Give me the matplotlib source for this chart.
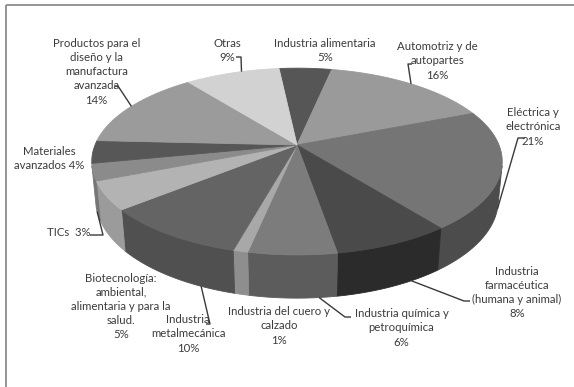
import numpy as np
import matplotlib
matplotlib.use("Agg")
import matplotlib.pyplot as plt
from matplotlib.patches import Polygon, Rectangle

# --- data -------------------------------------------------------------
sectors = [
    "Industria alimentaria",
    "Automotriz y de\nautopartes",
    "Eléctrica y\nelectrónica",
    "Industria\nfarmacéutica\n(humana y animal)",
    "Industria química y\npetroquímica",
    "Industria del cuero y\ncalzado",
    "Industria\nmetalmecánica",
    "Biotecnología:\nambiental,\nalimentaria y para la\nsalud.",
    "TICs",
    "Materiales\navanzados",
    "Productos para el\ndiseño y la\nmanufactura\navanzada",
    "Otras",
]
shares = [5, 16, 21, 8, 6, 1, 10, 5, 3, 4, 14, 9]
pct_inline = [False, False, False, False, False, False, False, False, True, True, False, False]

top_colors = ["#565656", "#9a9a9a", "#757575", "#4a4a4a", "#7c7c7c", "#a8a8a8",
              "#646464", "#b3b3b3", "#8b8b8b", "#575757", "#9b9b9b", "#d2d2d2"]
side_colors = ["#454545", "#7e7e7e", "#4c4c4c", "#2b2b2b", "#5c5c5c", "#8e8e8e",
               "#505050", "#9b9b9b", "#767676", "#4a4a4a", "#808080", "#b0b0b0"]

# label placement (centre x, centre y of first line) in figure pixels
label_xy = [(325, 43.5), (437.5, 46.7), (533, 112.7), (517, 271.3),
            (401.5, 313.7), (279, 311.7), (188, 319.7), (121, 278),
            (68.7, 233), (49, 151.7), (96.7, 43.3), (227.7, 43.3)]
line_step = 14.2

# leader lines: sector index -> (hook points near the text, position along slice)
leaders = {
    1: ([(412, 64), (408, 64)], 0.5),
    2: ([(525, 138), (518, 138)], 0.5),
    3: ([(470, 301), (464, 301)], 0.3),
    4: ([(351, 317), (345, 317)], 0.2),
    6: ([(206, 324), (210, 324)], 0.25),
    8: ([(90, 235), (103, 235)], 0.5),
    10: ([(114, 86), (118, 86)], 0.5),
    11: ([(236, 57), (241, 57)], 0.6),
}

# --- 3-D pie geometry --------------------------------------------------
W, H = 574, 387
cx, cy = 297.0, 145.0          # projected centre of the top face
elev = np.radians(26.6)        # viewing elevation
dist = 5.05                    # camera distance (pie radius = 1)
focal = 202 * dist             # screen scale
thick = 0.213                  # pie height
start = -6.0                   # first slice angle, degrees clockwise from 12 o'clock

s_e, c_e = np.sin(elev), np.cos(elev)


def project(theta, z):
    theta = np.asarray(theta, dtype=float)
    x = np.cos(theta)
    y = np.sin(theta)
    depth = y * c_e + dist - z * s_e
    up = y * s_e + z * c_e
    return cx + focal * x / depth, cy - focal * up / depth


fig = plt.figure(figsize=(W / 100, H / 100), dpi=100)
ax = fig.add_axes([0, 0, 1, 1])
ax.set_xlim(0, W)
ax.set_ylim(H, 0)
ax.axis("off")

# chart-area frame (right and bottom sides fall outside the canvas)
ax.add_patch(Rectangle((6, 5), 600, 420, fill=False, edgecolor="#8c8c8c", lw=1.3))

vals = np.array(shares, dtype=float)
bounds = start + np.concatenate([[0], np.cumsum(vals)]) / vals.sum() * 360.0
thetas = np.radians(90.0 - bounds)     # clockwise on screen
k = 1.0 / (dist * c_e)
vis_hi = -np.arcsin(k)
vis_lo = -np.pi + np.arcsin(k)

# outer walls (front part only)
for i in range(len(vals)):
    t0, t1 = thetas[i], thetas[i + 1]
    hi = min(t0, vis_hi)
    lo = max(t1, vis_lo)
    if hi <= lo:
        continue
    t = np.linspace(hi, lo, 80)
    xt, yt = project(t, 0.0)
    xb, yb = project(t[::-1], -thick)
    pts = np.column_stack([np.concatenate([xt, xb]), np.concatenate([yt, yb])])
    ax.add_patch(Polygon(pts, closed=True, facecolor=side_colors[i],
                         edgecolor=side_colors[i], lw=0.6, zorder=2))

# top faces
for i in range(len(vals)):
    t = np.linspace(thetas[i], thetas[i + 1], 120)
    xt, yt = project(t, 0.0)
    pts = np.column_stack([np.concatenate([[cx], xt]), np.concatenate([[cy], yt])])
    ax.add_patch(Polygon(pts, closed=True, facecolor=top_colors[i],
                         edgecolor=top_colors[i], lw=0.6, zorder=3))

# labels
text_kw = dict(family=["Lato", "DejaVu Sans"], fontsize=8.2, color="#3c3c3c",
               ha="center", va="center", zorder=5)
for i, name in enumerate(sectors):
    pct = f"{shares[i]}%"
    if pct_inline[i]:
        lines = name.split("\n")
        sep = "  " if len(lines) == 1 else " "
        lines[-1] = lines[-1] + sep + pct
    else:
        lines = name.split("\n") + [pct]
    x0, y0 = label_xy[i]
    for j, line in enumerate(lines):
        ax.text(x0, y0 + j * line_step, line, **text_kw)

# leader lines
for i, (hook, frac) in leaders.items():
    th = thetas[i] + frac * (thetas[i + 1] - thetas[i])
    z = -thick if np.sin(th) < 0 else 0.0
    ax_, ay_ = project(th, z)
    xs = [p[0] for p in hook] + [float(ax_)]
    ys = [p[1] for p in hook] + [float(ay_)]
    ax.plot(xs, ys, color="#3a3a3a", lw=1.0, zorder=4, solid_capstyle="butt")

fig.savefig("out.png", dpi=100)
